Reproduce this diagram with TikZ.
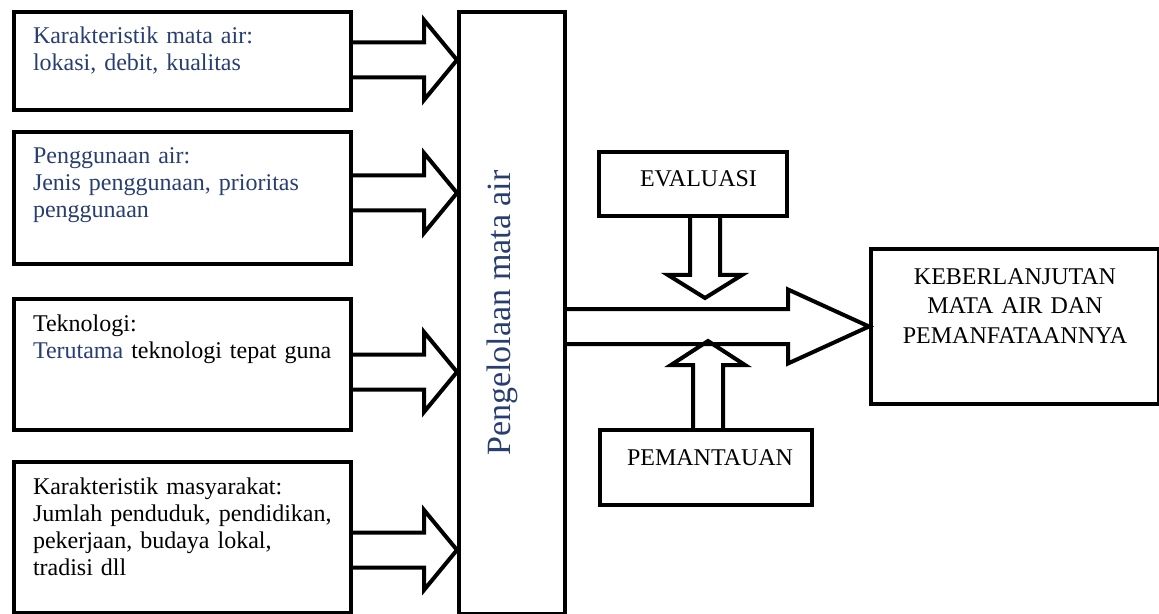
\documentclass[tikz,border=0pt]{standalone}
\usepackage{fontspec}
\setmainfont{Liberation Serif}
\usetikzlibrary{calc}
\definecolor{springblue}{RGB}{40,62,112}

% hollow block arrows: start, tip, half shaft, half head, head length
\newcommand\hollowright[5]{%
 \draw[hollow] ($(#1)+(0,-#3)$) -- ($(#2)+(-#5,-#3)$) -- ($(#2)+(-#5,-#4)$) -- (#2)
  -- ($(#2)+(-#5,#4)$) -- ($(#2)+(-#5,#3)$) -- ($(#1)+(0,#3)$);}
\newcommand\hollowvert[5]{%
 \draw[hollow] ($(#1)+(-#3,0)$) -- ($(#2)+({-#3},{-(#5)})$) -- ($(#2)+({-#4},{-(#5)})$) -- (#2)
  -- ($(#2)+(#4,{-(#5)})$) -- ($(#2)+(#3,{-(#5)})$) -- ($(#1)+(#3,0)$);}

\begin{document}
\begin{tikzpicture}[x=0.5pt,y=-0.5pt,line join=miter,
 factor/.style={draw,line width=2pt,anchor=north west,align=left,inner xsep=9.5pt,
  inner ysep=0pt,text width=149.5pt,text height=16pt,font=\fontsize{12}{13.5}\selectfont},
 control/.style={draw,line width=2pt,anchor=north west,align=left,inner ysep=0pt,
  text height=17.5pt,font=\fontsize{12}{13.5}\selectfont},
 hollow/.style={draw,line width=2pt}]
\useasboundingbox (0,0) rectangle (1159,614);

% inputs on the left
\node[factor,text depth=33pt,text=springblue] (karair) at (12,10)
 {Karakteristik mata air:\\lokasi, debit, kualitas};
\node[factor,text depth=50pt,text=springblue] (guna) at (12,130)
 {Penggunaan air:\\Jenis penggunaan, prioritas\\penggunaan};
\node[factor,text depth=49.5pt] (tekno) at (12,297)
 {Teknologi:\\{\color{springblue}Terutama} teknologi tepat guna};
\node[factor,text depth=59.5pt] (masy) at (12,460)
 {Karakteristik masyarakat:\\Jumlah penduduk, pendidikan,\\pekerjaan, budaya lokal,\\tradisi dll};

% management column
\node[draw,line width=2pt,anchor=north west,inner sep=0pt,minimum width=53pt,
 minimum height=301pt] (mgmt) at (457,10) {};
\node[rotate=90,text=springblue,font=\fontsize{17}{19}\selectfont] (mgmtlabel)
 at ($(mgmt.center)+(-10,0)$) {Pengelolaan mata air};

% control boxes
\node[control,inner xsep=20.5pt,text width=53pt,text depth=14.5pt] (eval) at (597,150) {EVALUASI};
\node[control,inner xsep=13.5pt,text width=79pt,text depth=20pt] (pantau) at (598,428) {PEMANTAUAN};

% outcome
\node[draw,line width=2pt,anchor=north west,align=center,inner xsep=6pt,inner ysep=0pt,
 text width=132pt,text height=18pt,text depth=59.5pt,font=\fontsize{12}{14.5}\selectfont]
 (lanjut) at (869,247) {KEBERLANJUTAN\\MATA AIR DAN\\PEMANFATAANNYA};

\coordinate (evtip) at (705,298);
\coordinate (patip) at (708,341);

\hollowright{karair.east |- 0,60}{mgmt.west |- 0,60}{17.5}{40}{33}
\hollowright{guna.east |- 0,193}{mgmt.west |- 0,193}{17.5}{40}{33}
\hollowright{tekno.east |- 0,372}{mgmt.west |- 0,372}{17.5}{40}{33}
\hollowright{masy.east |- 0,550}{mgmt.west |- 0,550}{17.5}{40}{33}
\hollowright{mgmt.east |- lanjut.west}{lanjut.west}{17.5}{37}{81}
\hollowvert{evtip |- eval.south}{evtip}{15}{37}{23}
\hollowvert{patip |- pantau.north}{patip}{15}{37}{-24}
\end{tikzpicture}
\end{document}
